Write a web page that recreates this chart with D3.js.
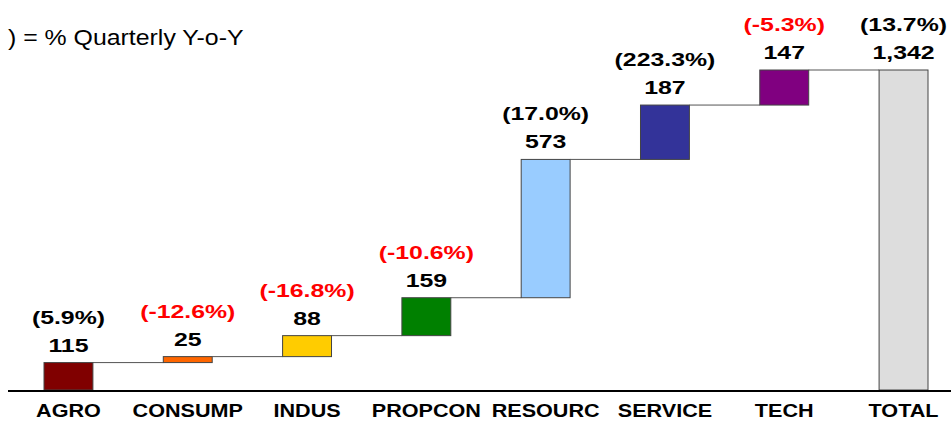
<!DOCTYPE html>
<html>
<head>
<meta charset="utf-8">
<script src="https://cdn.jsdelivr.net/npm/d3@7"></script>
<style>
  body { margin: 0; background: white; }
  text { font-family: Arial, "Liberation Sans", sans-serif; }
</style>
</head>
<body>
<script>
// chart data
const sectors = ["AGRO", "CONSUMP", "INDUS", "PROPCON", "RESOURC", "SERVICE", "TECH", "TOTAL"];
// printed values above each bar
const values = [115, 25, 88, 159, 573, 187, 147, 1342];
// bar lengths as drawn in the picture (they do not add up exactly to the printed labels)
const barLengths = [115, 25, 88, 159, 580, 228, 147, 1342];
// quarterly y-o-y change, in %
const changes = [5.9, -12.6, -16.8, -10.6, 17.0, 223.3, -5.3, 13.7];
const colors = ["#800000", "#ff6600", "#ffcc00", "#008000", "#99ccff", "#333399", "#800080", "#dddddd"];

const width = 951;
const height = 421;

// sets up canvas
let svg = d3.select("body").append("svg")
  .attr("width", width)
  .attr("height", height);

svg.append("rect")
  .attr("width", width)
  .attr("height", height)
  .attr("fill", "white");

// scales
let x = d3.scaleBand()
  .domain(sectors)
  .range([44, 928])
  .paddingInner(0.59)
  .paddingOuter(0);

let y = d3.scaleLinear()
  .domain([0, 1342])
  .range([390, 70]);

// builds the waterfall steps, total starts from zero
let steps = [];
let run = 0;
sectors.forEach(function(s, i) {
  let isTotal = s === "TOTAL";
  let start = isTotal ? 0 : run;
  let end = start + barLengths[i];
  if (!isTotal) run = end;
  steps.push({ name: s, start: start, end: end, value: values[i], change: changes[i], color: colors[i] });
});

// connector lines between bars
let links = steps.slice(0, -1).map(function(d, i) {
  return { from: d, to: steps[i + 1] };
});

svg.selectAll(".link")
  .data(links)
  .enter().append("line")
  .attr("class", "link")
  .attr("x1", d => x(d.from.name) + x.bandwidth())
  .attr("x2", d => x(d.to.name))
  .attr("y1", d => y(d.from.end))
  .attr("y2", d => y(d.from.end))
  .attr("stroke", "#555")
  .attr("stroke-width", 1);

// bars
svg.selectAll(".bar")
  .data(steps)
  .enter().append("rect")
  .attr("class", "bar")
  .attr("x", d => x(d.name))
  .attr("width", x.bandwidth())
  .attr("y", d => y(d.end))
  .attr("height", d => y(d.start) - y(d.end))
  .attr("fill", d => d.color)
  .attr("stroke", "#444")
  .attr("stroke-width", 1);

// baseline
svg.append("line")
  .attr("x1", 8)
  .attr("x2", width)
  .attr("y1", y(0) + 1)
  .attr("y2", y(0) + 1)
  .attr("stroke", "black")
  .attr("stroke-width", 2);

// value labels
svg.selectAll(".val")
  .data(steps)
  .enter().append("text")
  .attr("class", "val")
  .attr("transform", d => "translate(" + (x(d.name) + x.bandwidth() / 2) + "," + (y(d.end) - 11) + ") scale(1.38,1)")
  .attr("text-anchor", "middle")
  .attr("font-size", 18)
  .attr("font-weight", "bold")
  .attr("fill", "black")
  .text(d => d3.format(",")(d.value));

// percentage labels, red when negative
svg.selectAll(".pct")
  .data(steps)
  .enter().append("text")
  .attr("class", "pct")
  .attr("transform", d => "translate(" + (x(d.name) + x.bandwidth() / 2) + "," + (y(d.end) - 39) + ") scale(1.38,1)")
  .attr("text-anchor", "middle")
  .attr("font-size", 18)
  .attr("font-weight", "bold")
  .attr("fill", d => d.change < 0 ? "red" : "black")
  .text(d => "(" + d.change.toFixed(1) + "%)");

// category axis
let axis = svg.append("g")
  .attr("transform", "translate(0,417)")
  .call(d3.axisBottom(x).tickSize(0).tickPadding(0));

axis.select(".domain").remove();
axis.selectAll("text")
  .attr("dy", 0)
  .attr("y", 0)
  .attr("x", 0)
  .attr("transform", "scale(1.2,1)")
  .attr("font-size", 18)
  .attr("font-weight", "bold")
  .attr("font-family", "Arial, 'Liberation Sans', sans-serif")
  .attr("fill", "black");

// legend note at top left
svg.append("text")
  .attr("transform", "translate(8,45) scale(1.13,1)")
  .attr("font-size", 22)
  .attr("fill", "black")
  .text(") = % Quarterly Y-o-Y");
</script>
</body>
</html>
